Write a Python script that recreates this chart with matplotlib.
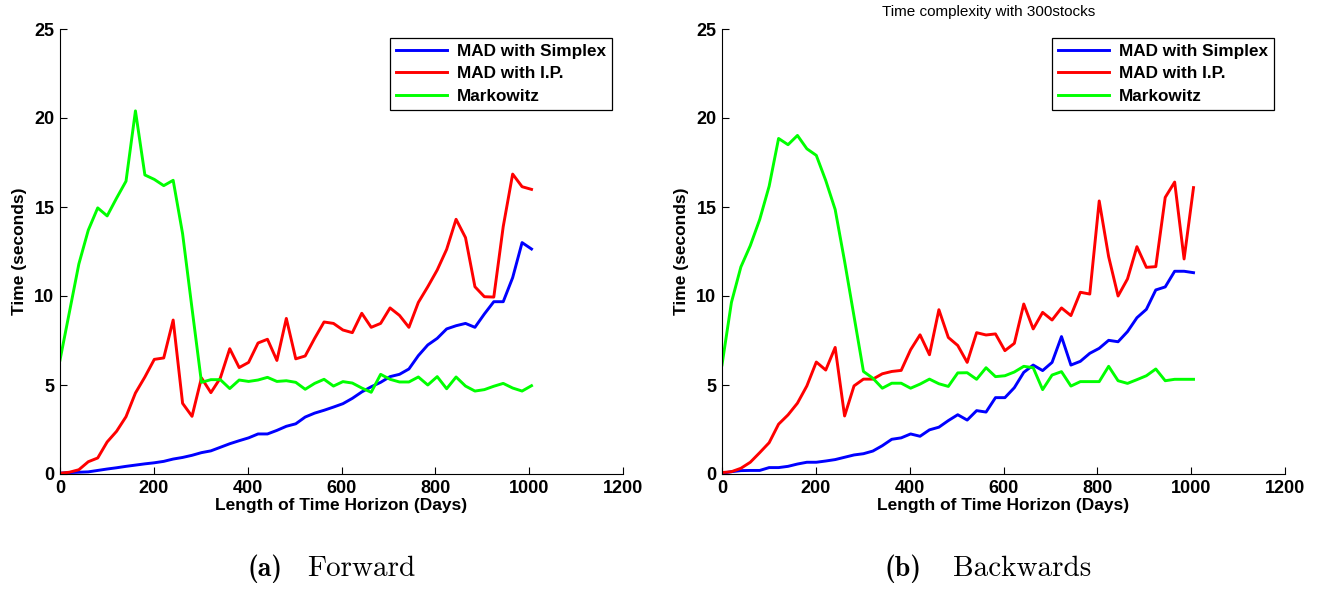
import numpy as np
import matplotlib
matplotlib.use("Agg")
import matplotlib.pyplot as plt

# horizon lengths (days), one run every ~20 days
days = np.linspace(0, 1005, 51)

# (a) Forward
fwd_simplex = [0.05, 0.08, 0.1, 0.12, 0.2, 0.28, 0.35, 0.43, 0.5, 0.57,
               0.63, 0.71, 0.84, 0.93, 1.05, 1.2, 1.3, 1.5, 1.7, 1.87,
               2.03, 2.25, 2.25, 2.45, 2.68, 2.82, 3.2, 3.42, 3.58, 3.76,
               3.95, 4.25, 4.61, 4.9, 5.15, 5.47, 5.6, 5.9, 6.65, 7.25,
               7.62, 8.15, 8.33, 8.46, 8.24, 8.99, 9.68, 9.68, 11.03, 13.0,
               12.64]
fwd_ip = [0.04, 0.1, 0.24, 0.69, 0.9, 1.8, 2.4, 3.22, 4.55, 5.45,
          6.44, 6.52, 8.65, 3.97, 3.24, 5.4, 4.57, 5.39, 7.04, 5.98,
          6.27, 7.36, 7.57, 6.38, 8.74, 6.47, 6.63, 7.62, 8.54, 8.46,
          8.09, 7.94, 9.03, 8.24, 8.46, 9.33, 8.91, 8.24, 9.64, 10.52,
          11.46, 12.62, 14.31, 13.28, 10.52, 9.96, 9.94, 13.9, 16.85, 16.14,
          15.99]
fwd_markowitz = [6.4, 9.1, 11.8, 13.7, 14.95, 14.5, 15.5, 16.45, 20.4, 16.8,
                 16.55, 16.2, 16.5, 13.5, 9.3, 5.15, 5.3, 5.3, 4.8, 5.28,
                 5.2, 5.28, 5.43, 5.2, 5.24, 5.15, 4.76, 5.09, 5.32, 4.94,
                 5.19, 5.11, 4.83, 4.59, 5.6, 5.32, 5.17, 5.17, 5.45, 5.0,
                 5.47, 4.79, 5.45, 4.94, 4.66, 4.74, 4.93, 5.09, 4.83, 4.66,
                 4.96]

# (b) Backwards
bwd_simplex = [0.04, 0.13, 0.19, 0.2, 0.2, 0.36, 0.36, 0.43, 0.56, 0.66,
               0.66, 0.73, 0.81, 0.94, 1.07, 1.14, 1.29, 1.59, 1.95, 2.03,
               2.25, 2.12, 2.48, 2.63, 3.0, 3.33, 3.03, 3.56, 3.48, 4.29,
               4.29, 4.85, 5.71, 6.12, 5.81, 6.27, 7.72, 6.12, 6.33, 6.78,
               7.06, 7.51, 7.43, 8.0, 8.78, 9.25, 10.34, 10.51, 11.39, 11.39,
               11.31]
bwd_ip = [0.08, 0.13, 0.32, 0.66, 1.2, 1.76, 2.8, 3.32, 3.98, 4.95,
          6.29, 5.84, 7.11, 3.26, 4.95, 5.33, 5.33, 5.63, 5.76, 5.82,
          6.98, 7.82, 6.7, 9.23, 7.67, 7.22, 6.27, 7.94, 7.81, 7.87,
          6.93, 7.34, 9.55, 8.15, 9.08, 8.65, 9.33, 8.9, 10.21, 10.11,
          15.34, 12.21, 10.0, 10.96, 12.77, 11.61, 11.65, 15.54, 16.4, 12.08,
          16.09]
bwd_markowitz = [6.13, 9.64, 11.63, 12.83, 14.3, 16.17, 18.85, 18.5, 19.02, 18.27,
                 17.9, 16.49, 14.86, 11.95, 8.86, 5.76, 5.38, 4.82, 5.1, 5.1,
                 4.82, 5.05, 5.33, 5.07, 4.92, 5.68, 5.69, 5.32, 5.97, 5.47,
                 5.52, 5.73, 6.05, 5.97, 4.74, 5.56, 5.75, 4.94, 5.19, 5.19,
                 5.19, 6.05, 5.24, 5.09, 5.3, 5.52, 5.9, 5.24, 5.32, 5.32,
                 5.32]

labels = ["MAD with Simplex", "MAD with I.P.", "Markowitz"]
colors = ["#0000ff", "#ff0000", "#00ff00"]

plt.rcParams["font.family"] = ["Liberation Sans", "DejaVu Sans"]
plt.rcParams["font.weight"] = "bold"

fig = plt.figure(figsize=(13.19, 5.92), dpi=100)
ax1 = fig.add_axes([60 / 1319, 118 / 592, 563 / 1319, 445 / 592])
ax2 = fig.add_axes([722 / 1319, 118 / 592, 563 / 1319, 445 / 592])


def draw_panel(ax, series):
    for ys, lab, col in zip(series, labels, colors):
        ax.plot(days, ys, color=col, lw=2.1, label=lab)
    ax.set_xlim(0, 1200)
    ax.set_ylim(0, 25)
    ax.set_xticks(range(0, 1201, 200))
    ax.set_yticks(range(0, 26, 5))
    for side in ["top", "right"]:
        ax.spines[side].set_visible(False)
    ax.tick_params(direction="in", length=5, labelsize=13, pad=4)
    for t in ax.get_xticklabels() + ax.get_yticklabels():
        t.set_fontweight("bold")
    ax.set_xlabel("Length of Time Horizon (Days)", fontsize=12.5,
                  fontweight="bold", labelpad=1)
    ax.set_ylabel("Time (seconds)", fontsize=12.5, fontweight="bold",
                  labelpad=5)
    leg = ax.legend(loc="upper right", bbox_to_anchor=(0.996, 1.0),
                    fancybox=False, edgecolor="black", framealpha=1,
                    prop={"weight": "bold", "size": 12.3},
                    handlelength=3.0, borderpad=0.35, labelspacing=0.45,
                    handletextpad=0.6, borderaxespad=0.5)
    leg.get_frame().set_linewidth(0.9)


draw_panel(ax1, [fwd_simplex, fwd_ip, fwd_markowitz])
draw_panel(ax2, [bwd_simplex, bwd_ip, bwd_markowitz])

fig.text(989 / 1319, 1 - 12 / 592, "Time complexity with 300stocks",
         ha="center", va="center", fontsize=11, fontweight="normal")

# sub-captions
cap_y = 1 - 569 / 592
fig.text(247 / 1319, cap_y, "(a)", family="cmb10", fontsize=20,
         ha="left", va="center")
fig.text(307 / 1319, cap_y, "Forward", family="cmr10", fontsize=21,
         ha="left", va="center", fontweight="normal")
fig.text(884 / 1319, cap_y, "(b)", family="cmb10", fontsize=20,
         ha="left", va="center")
fig.text(953 / 1319, cap_y, "Backwards", family="cmr10", fontsize=21,
         ha="left", va="center", fontweight="normal")

fig.savefig("out.png", dpi=100)
